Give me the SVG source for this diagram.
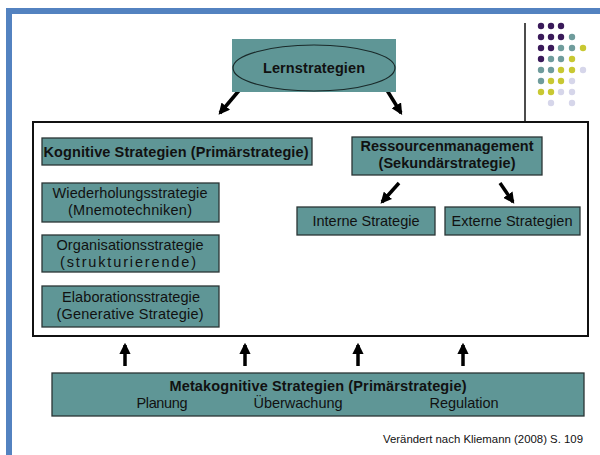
<svg xmlns="http://www.w3.org/2000/svg" width="600" height="455" viewBox="0 0 600 455">
<defs>
<style>
.box{fill:#5f9696;stroke:#2a3535;stroke-width:1.3}
.t{font-family:Arial,"Liberation Sans",Helvetica,sans-serif;font-size:14.5px;fill:#111;text-anchor:middle}
.b{font-weight:bold}
.arr{stroke:#000;stroke-width:3.5;fill:none}
.p{fill:#3a1a5a}.q{fill:#6f9c9c}.y{fill:#c8c832}.l{fill:#d6d6ea}
</style>
<marker id="ah" viewBox="0 0 10 10" refX="8" refY="5" markerWidth="3.2" markerHeight="3.2" orient="auto" markerUnits="strokeWidth">
<path d="M0,0 L10,5 L0,10 z" fill="#000"/>
</marker>
</defs>
<rect x="0" y="0" width="600" height="455" fill="#fff"/>
<path d="M9,455 V11 H600" fill="none" stroke="#5382c0" stroke-width="6"/>
<line x1="525" y1="23" x2="525" y2="122" stroke="#111" stroke-width="1.5"/>
<g id="dots">
<circle class="p" cx="541" cy="26" r="3.2"/><circle class="p" cx="551" cy="26" r="3.2"/><circle class="p" cx="561" cy="26" r="3.2"/>
<circle class="p" cx="541" cy="37" r="3.2"/><circle class="p" cx="551" cy="37" r="3.2"/><circle class="p" cx="561" cy="37" r="3.2"/><circle class="q" cx="572" cy="37" r="3.2"/>
<circle class="p" cx="541" cy="48" r="3.2"/><circle class="p" cx="551" cy="48" r="3.2"/><circle class="q" cx="561" cy="48" r="3.2"/><circle class="q" cx="572" cy="48" r="3.2"/><circle class="y" cx="583" cy="48" r="3.2"/>
<circle class="p" cx="541" cy="59" r="3.2"/><circle class="q" cx="551" cy="59" r="3.2"/><circle class="q" cx="561" cy="59" r="3.2"/><circle class="y" cx="572" cy="59" r="3.2"/>
<circle class="q" cx="541" cy="70" r="3.2"/><circle class="q" cx="551" cy="70" r="3.2"/><circle class="y" cx="561" cy="70" r="3.2"/><circle class="y" cx="572" cy="70" r="3.2"/><circle class="l" cx="583" cy="70" r="3.2"/>
<circle class="q" cx="541" cy="81" r="3.2"/><circle class="y" cx="551" cy="81" r="3.2"/><circle class="y" cx="561" cy="81" r="3.2"/><circle class="l" cx="572" cy="81" r="3.2"/>
<circle class="y" cx="541" cy="92" r="3.2"/><circle class="y" cx="551" cy="92" r="3.2"/><circle class="l" cx="561" cy="92" r="3.2"/><circle class="l" cx="572" cy="92" r="3.2"/>
<circle class="l" cx="551" cy="103" r="3.2"/><circle class="l" cx="572" cy="103" r="3.2"/>
</g>
<rect id="frame" x="33" y="122" width="555" height="214" fill="#fff" stroke="#111" stroke-width="2"/>
<g id="connectors">
<line class="arr" x1="242" y1="87" x2="220" y2="113" marker-end="url(#ah)"/>
<line class="arr" x1="385" y1="87" x2="401" y2="113" marker-end="url(#ah)"/>
<line class="arr" x1="399" y1="183" x2="382" y2="202" marker-end="url(#ah)"/>
<line class="arr" x1="500" y1="183" x2="513" y2="202" marker-end="url(#ah)"/>
<line class="arr" x1="125" y1="366" x2="125" y2="345" marker-end="url(#ah)"/>
<line class="arr" x1="245" y1="366" x2="245" y2="345" marker-end="url(#ah)"/>
<line class="arr" x1="358" y1="366" x2="358" y2="345" marker-end="url(#ah)"/>
<line class="arr" x1="463" y1="366" x2="463" y2="345" marker-end="url(#ah)"/>
</g>
<g id="lernstrategien">
<rect x="232" y="39" width="164" height="53" fill="#5f9696"/>
<ellipse cx="314" cy="68" rx="81" ry="23" fill="#5f9696" stroke="#1a2a2a" stroke-width="1.2"/>
<text class="t b" x="314" y="73" textLength="102">Lernstrategien</text>
</g>
<g id="kognitive">
<rect class="box" x="42" y="138" width="270" height="27"/>
<text class="t b" x="176" y="157" textLength="265">Kognitive Strategien (Primärstrategie)</text>
</g>
<g id="wiederholung">
<rect class="box" x="42" y="183" width="177" height="39"/>
<text class="t" x="130" y="198" textLength="155">Wiederholungsstrategie</text>
<text class="t" x="130" y="215" textLength="124">(Mnemotechniken)</text>
</g>
<g id="organisation">
<rect class="box" x="42" y="235" width="177" height="37"/>
<text class="t" x="130" y="250" textLength="147">Organisationsstrategie</text>
<text class="t" x="128" y="267" textLength="136">(strukturierende)</text>
</g>
<g id="elaboration">
<rect class="box" x="42" y="286" width="177" height="41"/>
<text class="t" x="131" y="302" textLength="138">Elaborationsstrategie</text>
<text class="t" x="130" y="319" textLength="147">(Generative Strategie)</text>
</g>
<g id="ressourcen">
<rect class="box" x="352" y="137" width="190" height="38"/>
<text class="t b" x="447" y="151" textLength="173">Ressourcenmanagement</text>
<text class="t b" x="447" y="168" textLength="137">(Sekundärstrategie)</text>
</g>
<g id="interne">
<rect class="box" x="297" y="207" width="138" height="28"/>
<text class="t" x="366" y="226" textLength="107">Interne Strategie</text>
</g>
<g id="externe">
<rect class="box" x="445" y="207" width="135" height="28"/>
<text class="t" x="512" y="226" textLength="121">Externe Strategien</text>
</g>
<g id="metakognitive">
<rect class="box" x="52" y="373" width="532" height="43"/>
<text class="t b" x="318" y="391" textLength="297">Metakognitive Strategien (Primärstrategie)</text>
<text class="t" x="162" y="408" textLength="51">Planung</text>
<text class="t" x="298" y="408" textLength="89">Überwachung</text>
<text class="t" x="464" y="408" textLength="69">Regulation</text>
</g>
<text class="t" x="583" y="443" font-size="10.5" style="text-anchor:end;font-size:10.5px" textLength="200" lengthAdjust="spacingAndGlyphs">Verändert nach Kliemann (2008) S. 109</text>
</svg>
